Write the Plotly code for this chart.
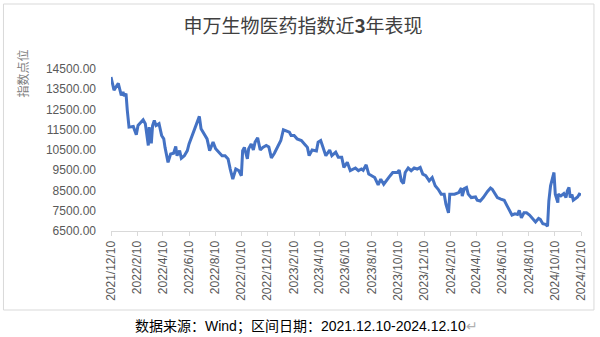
import plotly.graph_objects as go

dates = [
    "2021-12-10", "2021-12-13", "2021-12-17", "2021-12-24", "2021-12-27", "2022-01-03", "2022-01-07",
    "2022-01-10", "2022-01-14", "2022-01-17", "2022-01-21", "2022-01-31", "2022-02-07", "2022-02-11",
    "2022-02-17", "2022-02-23", "2022-02-28", "2022-03-07", "2022-03-09", "2022-03-14", "2022-03-17",
    "2022-03-21", "2022-03-25", "2022-04-01", "2022-04-07", "2022-04-12", "2022-04-15", "2022-04-22",
    "2022-04-28", "2022-05-05", "2022-05-10", "2022-05-13", "2022-05-19", "2022-05-23", "2022-05-30",
    "2022-06-06", "2022-06-10", "2022-06-16", "2022-06-23", "2022-06-27", "2022-07-04", "2022-07-08",
    "2022-07-15", "2022-07-22", "2022-07-28", "2022-08-05", "2022-08-11", "2022-08-19", "2022-08-26",
    "2022-09-02", "2022-09-09", "2022-09-14", "2022-09-20", "2022-09-27", "2022-10-04", "2022-10-10",
    "2022-10-13", "2022-10-17", "2022-10-24", "2022-10-27", "2022-11-02", "2022-11-07", "2022-11-11",
    "2022-11-17", "2022-11-23", "2022-11-29", "2022-12-07", "2022-12-13", "2022-12-19", "2022-12-26",
    "2023-01-03", "2023-01-10", "2023-01-16", "2023-01-30", "2023-02-03", "2023-02-10", "2023-02-17",
    "2023-02-27", "2023-03-06", "2023-03-13", "2023-03-17", "2023-03-24", "2023-04-03", "2023-04-07",
    "2023-04-13", "2023-04-19", "2023-04-25", "2023-05-04", "2023-05-09", "2023-05-18", "2023-05-24",
    "2023-06-01", "2023-06-06", "2023-06-14", "2023-06-21", "2023-07-03", "2023-07-10", "2023-07-17",
    "2023-07-21", "2023-07-28", "2023-08-03", "2023-08-10", "2023-08-17", "2023-08-25", "2023-08-31",
    "2023-09-07", "2023-09-15", "2023-09-22", "2023-09-28", "2023-10-09", "2023-10-13", "2023-10-18",
    "2023-10-23", "2023-10-27", "2023-11-03", "2023-11-10", "2023-11-17", "2023-11-24", "2023-12-01",
    "2023-12-07", "2023-12-14", "2023-12-22", "2023-12-29", "2024-01-05", "2024-01-12", "2024-01-19",
    "2024-01-26", "2024-01-30", "2024-02-05", "2024-02-08", "2024-02-19", "2024-02-23", "2024-02-29",
    "2024-03-06", "2024-03-08", "2024-03-13", "2024-03-18", "2024-03-22", "2024-03-29", "2024-04-08",
    "2024-04-12", "2024-04-19", "2024-04-26", "2024-05-06", "2024-05-13", "2024-05-17", "2024-05-23",
    "2024-05-29", "2024-06-06", "2024-06-14", "2024-06-21", "2024-06-27", "2024-07-02", "2024-07-09",
    "2024-07-15", "2024-07-19", "2024-07-24", "2024-07-30", "2024-08-05", "2024-08-12", "2024-08-20",
    "2024-08-26", "2024-09-02", "2024-09-06", "2024-09-12", "2024-09-18", "2024-09-23", "2024-09-26",
    "2024-09-30", "2024-10-08", "2024-10-11", "2024-10-17", "2024-10-18", "2024-10-24", "2024-10-31",
    "2024-11-05", "2024-11-08", "2024-11-12", "2024-11-15", "2024-11-19", "2024-11-22", "2024-12-02",
    "2024-12-06", "2024-12-10",
]

index_values = [
    14100, 13750, 13455, 13700, 13790, 13200, 13370,
    13160, 13290, 12460, 11630, 11660, 11250, 11710,
    11880, 11990, 11800, 10720, 11630, 10830, 11710,
    11960, 11710, 11800, 11220, 11050, 10630, 9890,
    10300, 10340, 10670, 10220, 10470, 10090, 10220,
    10470, 10800, 11130, 11470, 11710, 12160, 11550,
    11300, 11050, 10470, 10890, 10560, 10390, 10220,
    10220, 10060, 9560, 9060, 9560, 9480, 9230,
    10470, 10630, 10060, 10560, 10800, 10500, 10890,
    11100, 10500, 10630, 10720, 10650, 10110, 10340,
    10670, 10970, 11500, 11380, 11220, 11220, 11050,
    10970, 10800, 10630, 10220, 10500, 10450, 10890,
    10970, 10560, 10220, 10500, 10220, 10390, 10140,
    10140, 9640, 9890, 9480, 9610, 9480, 9560,
    9500, 9770, 9310, 9230, 9140, 8780, 9060,
    8810, 9060, 9230, 9390, 9390, 9510, 8980,
    8840, 9390, 9610, 9480, 9610, 9560, 9640,
    9310, 9230, 8980, 9140, 8730, 8560, 8320,
    8320, 7820, 7400, 8320, 8320, 8350, 8400,
    8620, 8230, 8600, 8650, 8320, 8150, 8180,
    8020, 7980, 8150, 8450, 8620, 8560, 8320,
    8150, 8070, 8020, 7730, 7520, 7290, 7350,
    7320, 7520, 7150, 7400, 7400, 7290, 7070,
    6950, 7120, 7070, 6860, 6830, 6740, 7980,
    8730, 9390, 8320, 7900, 8320, 8230, 8350,
    8150, 8480, 8650, 8150, 8300, 8020, 8180,
    8320, 8280,
]

x_tick_values = [
    "2021-12-10", "2022-02-10", "2022-04-10", "2022-06-10", "2022-08-10", "2022-10-10",
    "2022-12-10", "2023-02-10", "2023-04-10", "2023-06-10", "2023-08-10", "2023-10-10",
    "2023-12-10", "2024-02-10", "2024-04-10", "2024-06-10", "2024-08-10", "2024-10-10",
    "2024-12-10",
]
x_tick_labels = [
    "2021/12/10", "2022/2/10", "2022/4/10", "2022/6/10", "2022/8/10", "2022/10/10",
    "2022/12/10", "2023/2/10", "2023/4/10", "2023/6/10", "2023/8/10", "2023/10/10",
    "2023/12/10", "2024/2/10", "2024/4/10", "2024/6/10", "2024/8/10", "2024/10/10",
    "2024/12/10",
]
y_tick_values = [6500, 7500, 8500, 9500, 10500, 11500, 12500, 13500, 14500]
y_tick_labels = [f"{v:.2f}" for v in y_tick_values]

title_text = "申万生物医药指数近<b>3</b>年表现"
y_title_text = "指数点位"
caption_text = "数据来源：Wind；区间日期：2021.12.10-2024.12.10<span style='color:#b0b0b0'>↵</span>"

# layout geometry (pixels)
W, H = 600, 337
L, R, T, B = 111, 17, 69, 106
pw, ph = W - L - R, H - T - B


def px_x(p):
    return (p - L) / pw


def px_y(p):
    return (H - B - p) / ph


tick_font = dict(family="Liberation Sans, Arial, sans-serif", size=12, color="#595959")

fig = go.Figure()
fig.add_trace(go.Scatter(
    x=dates, y=index_values, mode="lines",
    line=dict(color="#4472C4", width=3),
    hoverinfo="skip", showlegend=False,
))

fig.update_layout(
    width=W, height=H,
    margin=dict(l=L, r=R, t=T, b=B),
    paper_bgcolor="white", plot_bgcolor="white",
    showlegend=False,
    title=dict(
        text=title_text, x=0.505, xref="container", xanchor="center",
        y=1 - 26 / H, yanchor="middle",
        font=dict(family="Noto Sans CJK SC, sans-serif", size=19, color="#404040"),
    ),
    xaxis=dict(
        type="date", range=["2021-12-10", "2024-12-10"],
        tickmode="array", tickvals=x_tick_values, ticktext=x_tick_labels,
        tickangle=-90, tickfont=tick_font,
        showgrid=False, zeroline=False,
        showline=True, linecolor="#d9d9d9", linewidth=1,
        ticks="outside", ticklen=4, tickcolor="#d9d9d9", tickwidth=1,
    ),
    yaxis=dict(
        range=[6500, 14500],
        tickmode="array", tickvals=y_tick_values, ticktext=y_tick_labels,
        tickfont=tick_font, showgrid=False, zeroline=False, showline=False,
        ticks="", ticklabelstandoff=14,
    ),
    shapes=[
        dict(type="rect", xref="paper", yref="paper",
             x0=px_x(3), x1=px_x(596), y0=px_y(310), y1=px_y(4),
             line=dict(color="#d9d9d9", width=1), fillcolor="rgba(0,0,0,0)", layer="below"),
    ],
    annotations=[
        dict(text=y_title_text, xref="paper", yref="paper", x=px_x(22), y=px_y(73),
             showarrow=False, textangle=-90, xanchor="center", yanchor="middle",
             font=dict(family="Noto Sans CJK SC, sans-serif", size=12, color="#7f7f7f")),
        dict(text=caption_text, xref="paper", yref="paper", x=px_x(133), y=px_y(326),
             showarrow=False, xanchor="left", yanchor="middle",
             font=dict(family="Liberation Sans, Noto Sans CJK SC, sans-serif", size=14, color="#000000")),
    ],
)

fig.write_html("out.html")
